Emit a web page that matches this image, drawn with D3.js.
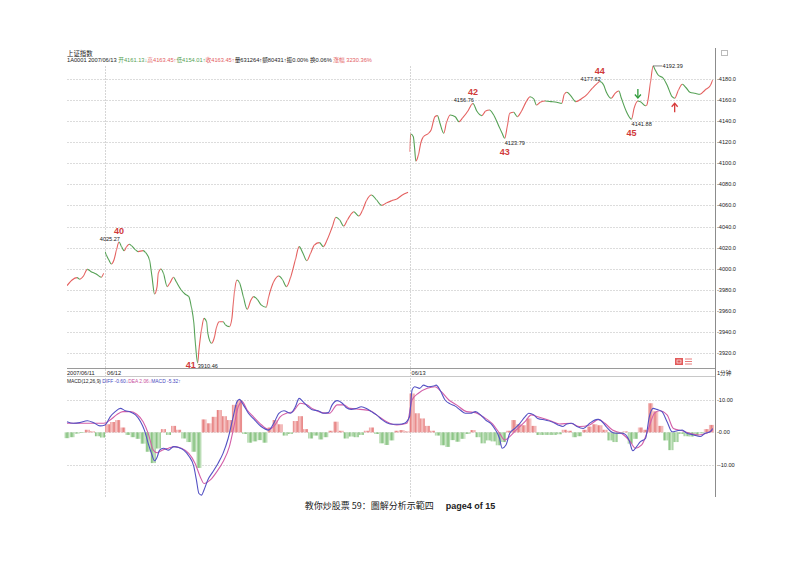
<!DOCTYPE html>
<html lang="zh">
<head>
<meta charset="utf-8">
<title>上证指数 分时</title>
<script src="https://cdn.jsdelivr.net/npm/d3@7"></script>
<style>
body { margin: 0; background: #fff; }
svg { display: block; }
.sm { font-family: "Liberation Sans", "Noto Sans CJK SC", sans-serif; font-size: 5.6px; fill: #222; }
.num { font-family: "Liberation Sans", sans-serif; font-size: 9px; font-weight: bold; fill: #d03a3a; }
</style>
</head>
<body>
<svg width="800" height="566"></svg>
<script>
// 1-minute index: 0 = 06/11 14:30, 30 = 06/12 open, 270 = 06/13 open
var dayStart = [0, 30, 270];
var dayLabels = ["2007/06/11", "06/12", "06/13"];

var day1Min = [0, 4, 8, 10, 13, 16, 19, 23, 27, 29];
var day1Px  = [3983.9, 3989.3, 3991.5, 3990, 3993.1, 3999.4, 3997.2, 3995, 3991.9, 3995.7];

var day2Min = [30, 31, 33, 35, 37, 39, 41, 43, 45, 47, 49, 51, 54, 56, 60, 62, 65, 67, 69, 71,
  72, 74, 76, 79, 81, 84, 86, 90, 93, 96, 98, 100, 101, 103, 104, 106, 108, 110, 111, 114,
  116, 118, 120, 123, 125, 128, 130, 131, 132, 134, 136, 139, 142, 145, 147, 150, 153, 157, 159, 163,
  167, 170, 173, 176, 180, 183, 186, 189, 192, 195, 199, 202, 205, 209, 212, 215, 218, 221, 224, 226,
  230, 233, 236, 240, 244, 248, 252, 256, 260, 264, 269];
var day2Px = [4016.2, 4013, 4008.3, 4004.5, 4008.3, 4017.8, 4025.3, 4020.9, 4017.1, 4020.9, 4023.2, 4021.6, 4017.8, 4016.2, 4017.1, 4015.2, 4008.3, 3992.4, 3976, 3983,
  3995.7, 3999.7, 3995.7, 3983, 3986.2, 3991.9, 3987.8, 3979.8, 3976, 3973.5, 3964, 3948.2, 3932.4, 3910.5, 3922.9, 3941.9, 3952.9, 3949.7, 3938.7, 3929.2,
  3934, 3945, 3949.7, 3949.7, 3946.6, 3945, 3953, 3966, 3978, 3989.3, 3986.7, 3973.5, 3961.5, 3970.3, 3973.5, 3971, 3965.6, 3963.4, 3973.5, 3987.8,
  3993.1, 3989.3, 3983, 3990.9, 4008.3, 4020.9, 4014.6, 4007.6, 4014.6, 4022.5, 4024.7, 4020.9, 4027.2, 4039.3, 4048.8, 4046.2, 4040.5, 4046.2, 4051.9, 4054.1,
  4050, 4055.7, 4064.5, 4069.9, 4065.2, 4060.1, 4062.5, 4064.6, 4066.2, 4069.7, 4072.5];

var day3Min = [270, 271, 273, 274, 275, 277, 279, 281, 285, 287, 290, 292, 294, 297, 299, 302, 306, 309, 312, 316,
  319, 320, 323, 327, 330, 333, 336, 340, 343, 345, 347, 349, 352, 355, 358, 362, 365, 368, 370, 373,
  377, 382, 386, 390, 392, 394, 397, 401, 406, 410, 414, 418, 420, 423, 425, 429, 432, 435, 437, 441,
  445, 447, 450, 452, 456, 457, 460, 462, 463, 466, 470, 473, 477, 479, 482, 485, 488, 491, 495, 499,
  503, 507, 509];
var day3Px = [4111, 4127.8, 4125.3, 4114.3, 4102.2, 4107.9, 4119.9, 4125.3, 4128.5, 4131.6, 4144.2, 4145.2, 4138, 4128.5, 4138, 4145.8, 4144.2, 4139.5, 4143.3, 4149.6,
  4156, 4156.8, 4149.6, 4145.2, 4149.6, 4150.6, 4146.5, 4136.4, 4128.5, 4123.8, 4134.7, 4147.5, 4148.4, 4144.2, 4149, 4158.5, 4163.2, 4161, 4155.3, 4157.9,
  4159.1, 4158.5, 4157.9, 4156.9, 4165.5, 4167.4, 4164.2, 4158.5, 4161.7, 4165.5, 4171.2, 4175.9, 4177.6, 4174.3, 4168, 4161.7, 4166.4, 4168.6, 4161.7, 4149,
  4141.9, 4152.2, 4159.1, 4158.5, 4154.7, 4155.3, 4177.4, 4192.4, 4190.2, 4183.8, 4180.7, 4174.3, 4163.2, 4161.7, 4169.6, 4175, 4171.7, 4167.4, 4166.4, 4165.5,
  4169.6, 4173.6, 4179.1];

var priceTicks = [3920, 3940, 3960, 3980, 4000, 4020, 4040, 4060, 4080, 4100, 4120, 4140, 4160, 4180];
var macdTicks = [-10, 0, 10];

// turning points marked on the chart
var markMin = [41, 103, 320, 345, 420, 445, 462];
var markPx  = [4025.27, 3910.46, 4156.76, 4123.79, 4177.62, 4141.88, 4192.39];
var markHigh = [true, false, true, false, true, false, true];
var waveNo = ["40", "41", "42", "43", "44", "45"];

// MACD(12,26,9)
var diffMin = [0, 5, 10, 16, 21, 26, 30, 34, 38, 42, 46, 50, 54, 58, 61, 64, 67, 69, 71, 73,
  76, 80, 84, 88, 92, 96, 100, 102, 104, 106, 108, 111, 115, 119, 123, 127, 131, 134, 136, 139,
  143, 148, 153, 159, 163, 167, 171, 176, 180, 183, 186, 190, 194, 198, 202, 206, 209, 213, 217, 220,
  224, 228, 232, 236, 240, 244, 248, 252, 257, 262, 266, 270, 272, 274, 278, 281, 285, 289, 291, 294,
  298, 302, 306, 310, 314, 318, 322, 326, 330, 334, 337, 341, 343, 346, 349, 353, 357, 361, 364, 368,
  371, 377, 382, 387, 391, 394, 398, 402, 407, 412, 418, 421, 425, 429, 433, 438, 443, 446, 449, 452,
  456, 459, 462, 465, 469, 473, 477, 481, 485, 488, 494, 499, 503, 507, 509];
var diffVal = [3.3, 2.8, 3.0, 3.6, 3.0, 2.0, 2.3, 4.8, 6.4, 7.4, 6.7, 6.3, 5.4, 3.3, 0.7, -3.4, -7.0, -8.8, -7.7, -5.5,
  -4.9, -5.5, -4.4, -4.7, -5.5, -7.3, -10.6, -14.7, -18.9, -19.4, -17.8, -14.7, -12.2, -9.6, -6.5, -1.9, 4.8, 9.5, 10.2, 8.5,
  5.9, 3.8, 1.8, 0.7, 2.8, 5.9, 6.7, 5.9, 7.9, 10.5, 9.5, 7.9, 6.9, 6.7, 5.9, 6.1, 8.5, 9.8, 9.0, 7.7,
  7.1, 7.4, 7.9, 7.4, 6.4, 5.4, 4.0, 3.0, 2.5, 2.5, 2.8, 4.8, 13.1, 14.1, 13.6, 14.6, 14.1, 14.3, 14.6, 13.1,
  10.0, 8.8, 8.1, 6.9, 5.9, 5.9, 6.4, 5.4, 3.8, 2.8, 1.2, -1.9, -4.9, -3.9, -0.3, 1.2, 2.8, 4.8, 5.9, 5.4,
  4.3, 3.8, 3.3, 2.3, 1.8, 2.6, 2.8, 1.8, 1.2, 2.8, 4.0, 3.6, 1.8, 0.2, -0.3, -0.3, -2.4, -5.7, -4.4, -2.9,
  -1.9, 4.8, 7.4, 7.1, 6.4, 3.3, 0.2, 0.5, 0.7, -0.1, -0.8, -1.3, -0.3, 0.2, 1.2];

var deaMin = [0, 10, 21, 29, 34, 39, 44, 50, 55, 60, 64, 68, 71, 75, 80, 85, 90, 96, 101, 105,
  108, 113, 118, 123, 128, 131, 135, 138, 142, 147, 152, 159, 164, 168, 173, 178, 184, 189, 194, 201,
  207, 213, 218, 223, 231, 239, 245, 252, 260, 268, 272, 277, 284, 290, 295, 301, 307, 315, 322, 328,
  335, 341, 345, 349, 354, 361, 366, 371, 381, 388, 397, 404, 412, 419, 424, 430, 437, 444, 448, 453,
  458, 463, 467, 473, 478, 485, 491, 498, 504, 509];
var deaVal = [2.8, 2.8, 2.8, 2.8, 3.8, 5.4, 6.4, 6.4, 5.6, 3.3, -0.3, -5.5, -6.3, -5.5, -4.9, -4.4, -4.9, -6.5, -9.6, -13.7,
  -15.8, -14.7, -12.2, -9.1, -4.4, 0.7, 7.9, 9.5, 6.9, 4.8, 2.8, 0.9, 2.3, 4.8, 5.9, 6.4, 9.0, 8.5, 7.2, 6.1,
  5.9, 8.5, 8.5, 7.4, 7.1, 6.7, 5.1, 3.3, 2.3, 2.8, 10.0, 12.1, 13.6, 14.1, 12.6, 10.0, 8.5, 6.4, 6.1, 4.8,
  2.8, -0.3, -2.4, -1.3, 0.7, 3.3, 5.4, 4.8, 3.6, 2.6, 2.8, 1.8, 2.3, 4.0, 2.8, 0.7, -0.3, -2.9, -4.9, -3.9,
  0.7, 5.9, 6.7, 5.4, 1.2, 0.5, -0.3, -0.8, -0.3, 0.7];

// MACD bars, one every 4 minutes starting at minute 0
var histStep = 4;
var histVal = [-1.8, -1.5, -0.4, -0.2, 0.8, 0.3, -1.2, -1.6, 2.5, 3.2, 3.8, 1.5, -0.8, -1.5, -2.0, -3.5, -6.0, -9.5, -5.0, 1.0,
  -0.8, 2.0, 0.8, -1.9, -3.0, -6.0, -11.0, 4.0, 2.8, 4.8, 6.9, 5.0, 3.8, 8.5, 10, -0.5, -3.2, -2.8, -2.4, -3.2,
  1.5, 3.8, 2.5, -1.0, -0.5, 3.5, 5.0, 1.0, -1.9, -1.0, -2.2, -1.5, 0.5, 3.3, 0.5, -1.9, -1.3, -1.5, -0.8, 0.5,
  1.5, -0.5, -3.4, -3.9, -2.5, 0.5, 0.7, 0.3, 12, 5.9, 4.3, 2.0, 0.5, -1.0, -4.0, -4.5, -2.4, -2.9, -2.0, -0.5,
  0.7, -1.5, -3.4, -2.5, -2.8, -4.0, -3.0, 0.5, 3.8, 2.5, 2.2, 4.3, 2.0, -0.8, -0.8, -0.8, -0.8, -0.6, 0.8, 0.5,
  -1.5, -1.2, 0.8, 1.8, 2.5, 2.2, 0.8, -2.5, -3.0, -0.5, 0.3, -3.5, -2.0, 1.5, 0.8, 9.0, 6.5, 2.0, -2.5, -5.5,
  -3.0, -0.5, -1.2, -1.3, -1.0, -0.3, 1.0, 2.3];

var up = "#e4605f", down = "#55a155";

var svg = d3.select("svg");
var left = 67, right = 715;

var x = d3.scaleLinear().domain([0, 510]).range([left, 714]);
var y = d3.scaleLinear().domain([3920, 4180]).range([353, 79]);
var ym = d3.scaleLinear().domain([-10, 10]).range([464.7, 400]);

// patterns for the dense 1-minute bars
var defs = svg.append("defs");
[["hRed", "#f8d0d0", "#e68080"], ["hGreen", "#d4ebd0", "#86c280"]].forEach(function(p) {
  var pt = defs.append("pattern").attr("id", p[0]).attr("patternUnits", "userSpaceOnUse")
    .attr("width", 1.27).attr("height", 10);
  pt.append("rect").attr("width", 1.27).attr("height", 10).attr("fill", p[1]);
  pt.append("rect").attr("width", 0.7).attr("height", 10).attr("fill", p[2]);
});

// grids
svg.append("g").selectAll("line").data(priceTicks).enter().append("line")
  .attr("x1", left).attr("x2", right)
  .attr("y1", function(d) { return Math.round(y(d)) + 0.5; })
  .attr("y2", function(d) { return Math.round(y(d)) + 0.5; })
  .attr("stroke", "#dcdcdc").attr("stroke-dasharray", "2,1");

svg.append("g").selectAll("line").data(macdTicks).enter().append("line")
  .attr("x1", left).attr("x2", right)
  .attr("y1", function(d) { return Math.round(ym(d)) + 0.5; })
  .attr("y2", function(d) { return Math.round(ym(d)) + 0.5; })
  .attr("stroke", "#dcdcdc").attr("stroke-dasharray", "2,1");

svg.append("g").selectAll("line").data(dayStart.slice(1)).enter().append("line")
  .attr("x1", function(d) { return Math.round(x(d)) + 0.5; })
  .attr("x2", function(d) { return Math.round(x(d)) + 0.5; })
  .attr("y1", 66).attr("y2", 497)
  .attr("stroke", "#d6d6d6").attr("stroke-dasharray", "2,1");

// date strip
svg.append("line").attr("x1", left).attr("x2", right).attr("y1", 368.5).attr("y2", 368.5).attr("stroke", "#9a9a9a");
svg.append("line").attr("x1", left).attr("x2", right).attr("y1", 376.5).attr("y2", 376.5).attr("stroke", "#c8c8c8");
svg.append("g").selectAll("text").data(dayStart).enter().append("text")
  .attr("class", "sm")
  .attr("x", function(d, i) { return i == 0 ? left : x(d) + 2; })
  .attr("y", 374.8)
  .text(function(d, i) { return dayLabels[i]; });
svg.append("text").attr("class", "sm").attr("x", 717).attr("y", 374.8).text("1分钟");

// right axis
svg.append("line").attr("x1", right + 0.5).attr("x2", right + 0.5).attr("y1", 48).attr("y2", 497).attr("stroke", "#8c8c8c");
svg.append("rect").attr("x", 721.5).attr("y", 50.5).attr("width", 6).attr("height", 5).attr("fill", "none").attr("stroke", "#bbb");
svg.append("g").selectAll("text").data(priceTicks).enter().append("text")
  .attr("class", "sm").attr("x", right + 2).attr("y", function(d) { return y(d) + 2; })
  .text(function(d) { return "-" + d.toFixed(1); });
svg.append("g").selectAll("text").data(macdTicks).enter().append("text")
  .attr("class", "sm").attr("x", right + 2).attr("y", function(d) { return ym(d) + 2; })
  .text(function(d) { return "-" + d.toFixed(2); });

// header
svg.append("text").attr("class", "sm").attr("x", left).attr("y", 55.5).style("font-size", "6.4px").text("上证指数");
var hd = svg.append("text").attr("class", "sm").attr("x", left).attr("y", 62).style("font-size", "5.7px");
[["1A0001 2007/06/13 ", "#222"], ["开4161.13↓", down], ["高4163.45↑", up], ["低4154.01↑", down],
 ["收4163.45↑", up], ["量631264↑额80431↑振0.00% 换0.06% ", "#222"], ["涨幅 3230.36%", up]].forEach(function(s) {
  hd.append("tspan").attr("fill", s[1]).text(s[0]);
});

// price line: smooth path per day, clipped into rising (red) and falling (green) steps
var days = [[day1Min, day1Px], [day2Min, day2Px], [day3Min, day3Px]];
var lineP = d3.line().curve(d3.curveMonotoneX);
var gp = svg.append("g").attr("fill", "none").attr("stroke-width", 1.1);
days.forEach(function(dd, di) {
  var pts = dd[0].map(function(m, i) { return [x(m), y(dd[1][i])]; });
  [["u", up], ["d", down]].forEach(function(c) {
    var cp = defs.append("clipPath").attr("id", "clip" + di + c[0]);
    d3.range(dd[0].length - 1).forEach(function(i) {
      var rising = dd[1][i + 1] >= dd[1][i];
      if (rising == (c[0] == "u")) {
        cp.append("rect").attr("x", pts[i][0] - 0.05).attr("y", 0)
          .attr("width", pts[i + 1][0] - pts[i][0] + 0.1).attr("height", 566);
      }
    });
    gp.append("path").attr("d", lineP(pts)).attr("stroke", c[1])
      .attr("clip-path", "url(#clip" + di + c[0] + ")");
  });
});

// turning point values and wave numbers
markMin.forEach(function(m, i) {
  var px = x(m), py = y(markPx[i]);
  if (i == markMin.length - 1) {
    svg.append("line").attr("x1", px).attr("x2", px + 9).attr("y1", py).attr("y2", py).attr("stroke", "#333").attr("stroke-width", 0.6);
    svg.append("text").attr("class", "sm").attr("x", px + 9.5).attr("y", py + 2).text(markPx[i].toFixed(2));
    return;
  }
  var lowClip = !markHigh[i] && py + 17 > 366;
  svg.append("text").attr("class", "sm")
    .attr("x", markHigh[i] ? px + 1 : px)
    .attr("y", markHigh[i] ? py - 1 : (lowClip ? 368 : py + 7))
    .attr("text-anchor", markHigh[i] ? "end" : "start")
    .text(markPx[i].toFixed(2));
  svg.append("text").attr("class", "num")
    .attr("x", lowClip ? px - 7 : px)
    .attr("y", markHigh[i] ? py - 8 : (lowClip ? 367.5 : py + 17))
    .attr("text-anchor", "middle")
    .text(waveNo[i]);
});

// buy / sell arrows
function arrow(cx, tipY, dir, col) {
  var g = svg.append("g").attr("stroke", col).attr("fill", "none").attr("stroke-width", 1.3);
  g.append("line").attr("x1", cx).attr("x2", cx).attr("y1", tipY).attr("y2", tipY - dir * 9);
  g.append("path").attr("d", "M" + (cx - 3) + "," + (tipY - dir * 3.5) + "L" + cx + "," + tipY + "L" + (cx + 3) + "," + (tipY - dir * 3.5));
}
arrow(x(450), y(4159.1) - 3, 1, "#2e9a3a");
arrow(x(479), y(4161.7) + 5, -1, "#d83a3a");

// small icon above the date strip
svg.append("rect").attr("x", 675).attr("y", 358).attr("width", 8).attr("height", 7).attr("fill", "#e25a5a");
svg.append("rect").attr("x", 677).attr("y", 360).attr("width", 4).attr("height", 3).attr("fill", "none").attr("stroke", "#fff").attr("stroke-width", 0.6);
[359, 361.5, 364].forEach(function(yy) {
  svg.append("line").attr("x1", 685).attr("x2", 692).attr("y1", yy).attr("y2", yy).attr("stroke", "#e25a5a").attr("stroke-width", 0.8);
});

// MACD panel
var bw = x(histStep) - x(0);
svg.append("g").selectAll("rect").data(histVal).enter().append("rect")
  .attr("x", function(d, k) { return x(k * histStep) - bw / 2; })
  .attr("width", bw)
  .attr("y", function(d) { return d > 0 ? ym(d) : ym(0); })
  .attr("height", function(d) { return Math.abs(ym(d) - ym(0)); })
  .attr("fill", function(d) { return d > 0 ? "url(#hRed)" : "url(#hGreen)"; });

var lineM = d3.line().curve(d3.curveMonotoneX);
svg.append("path")
  .attr("d", lineM(deaMin.map(function(m, i) { return [x(m), ym(deaVal[i])]; })))
  .attr("fill", "none").attr("stroke", "#d35fa8").attr("stroke-width", 1.1);
svg.append("path")
  .attr("d", lineM(diffMin.map(function(m, i) { return [x(m), ym(diffVal[i])]; })))
  .attr("fill", "none").attr("stroke", "#5452c4").attr("stroke-width", 1.1);

var mh = svg.append("text").attr("class", "sm").attr("x", left).attr("y", 382.5).style("font-size", "4.9px");
[["MACD(12,26,9) ", "#222"], ["DIFF -0.60↓", "#4646c0"], ["DEA 2.06↓", "#c8509c"], ["MACD -5.32↑", "#4646c0"]].forEach(function(s) {
  mh.append("tspan").attr("fill", s[1]).text(s[0]);
});

// page caption
var cap = svg.append("text").attr("x", 400).attr("y", 509).attr("text-anchor", "middle")
  .style("font-family", "'Liberation Sans', 'Noto Sans CJK TC', sans-serif").style("font-size", "9px")
  .style("font-weight", "bold").attr("fill", "#222");
cap.append("tspan").style("font-weight", "normal").style("font-family", "'Noto Sans CJK TC', sans-serif").text("教你炒股票 59：圖解分析示範四");
cap.append("tspan").attr("dx", 12).text("page4 of 15");
</script>
</body>
</html>
